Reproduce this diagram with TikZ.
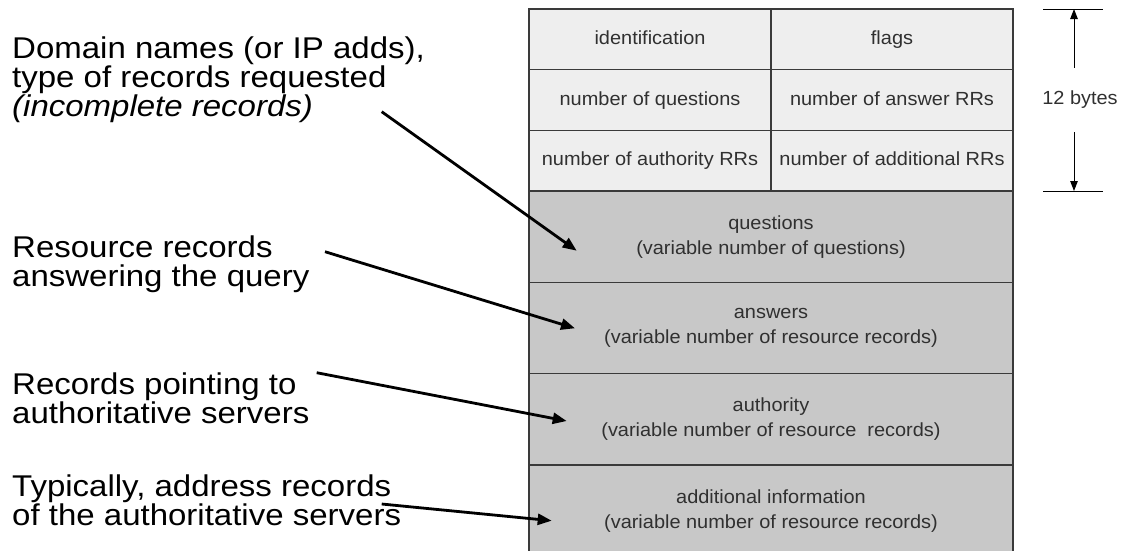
\documentclass[tikz,border=0pt]{standalone}
\usepackage{fontspec}
\setmainfont{Liberation Sans}
\newfontfamily\lblfont[FakeStretch=1.1]{Liberation Sans}
\newfontfamily\cellfont[FakeStretch=1.05]{Liberation Sans}
\usetikzlibrary{arrows.meta}
\definecolor{hdrfill}{HTML}{EEEEEE}
\definecolor{secfill}{HTML}{C8C8C8}
\definecolor{cellline}{HTML}{3A3A3A}
\definecolor{celltext}{HTML}{303030}
\begin{document}
\begin{tikzpicture}[x=1pt,y=-1pt,
  hdr/.style={draw=cellline, fill=hdrfill, line width=1.1pt, minimum width=242pt,
    minimum height=60.67pt, inner sep=0pt, text=celltext,
    text height=14pt, text depth=4pt,
    font=\cellfont\fontsize{19}{24}\selectfont},
  sec/.style={draw=cellline, fill=secfill, line width=1.1pt, minimum width=484pt,
    minimum height=91.33pt, inner sep=0pt, align=center, text=celltext,
    font=\cellfont\fontsize{19}{25}\selectfont},
  lbl/.style={anchor=north west, inner sep=0pt, align=left,
    font=\lblfont\fontsize{30}{29}\selectfont},
  pointer/.style={line width=2.8pt, -{Triangle[length=14pt,width=11pt]}},
  dimline/.style={line width=1pt},
  dimarrow/.style={line width=1pt, -{Triangle[length=10pt,width=7.5pt]}}
]
\useasboundingbox (0,0) rectangle (1122,550);
\begin{scope}
\clip (0,0) rectangle (1122,550);

% header: 12 bytes in three rows of two fields
\node[hdr] (id)    at (650,39.33)  {identification};
\node[hdr] (flags) at (892,39.33)  {flags};
\node[hdr] (nq)    at (650,100)    {number of questions};
\node[hdr] (nans)  at (892,100)    {number of answer RRs};
\node[hdr] (nauth) at (650,160.67) {number of authority RRs};
\node[hdr] (nadd)  at (892,160.67) {number of additional RRs};

% variable-length sections
\node[sec] (quest) at (771,236.67) {questions\\(variable number of questions)};
\node[sec] (answ)  at (771,328)    {answers\\(variable number of resource records)};
\node[sec] (auth)  at (771,419.33) {authority\\(variable number of resource\ \ records)};
\node[sec] (addl)  at (771,510.67) {additional information\\(variable number of resource records)};
\end{scope}

% size of the header
\node[inner xsep=0pt, inner ysep=23pt, font=\cellfont\fontsize{19}{24}\selectfont, text=celltext]
  (bytes) at (1080,100) {12 bytes};
\coordinate (topl) at (1043,9);
\coordinate (topr) at (1103,9);
\coordinate (botl) at (1043,191);
\coordinate (botr) at (1103,191);
\coordinate (topmid) at (1074,9);
\coordinate (botmid) at (1074,191);
\draw[dimline] (topl) -- (topr);
\draw[dimline] (botl) -- (botr);
\draw[dimarrow] (bytes.north -| topmid) -- (topmid);
\draw[dimarrow] (bytes.south -| botmid) -- (botmid);

% explanations on the left
\node[lbl] (l1) at (12,37)  {Domain names (or IP adds),\\type of records requested\\\textit{(incomplete records)}};
\node[lbl] (l2) at (12,236) {Resource records\\answering the query};
\node[lbl] (l3) at (12,373) {Records pointing to\\authoritative servers};
\node[lbl] (l4) at (12,475) {Typically, address records\\of the authoritative servers};

% pointers into the sections
\coordinate (p1) at (381.7,111.7);
\coordinate (q1) at (576.7,250.7);
\coordinate (p2) at (325,251.7);
\coordinate (q2) at (575,328.3);
\coordinate (p3) at (316.7,372.7);
\coordinate (q3) at (566.7,421);
\coordinate (p4) at (381.7,504);
\coordinate (q4) at (551.7,520.7);
\draw[pointer] (p1) -- (q1);
\draw[pointer] (p2) -- (q2);
\draw[pointer] (p3) -- (q3);
\draw[pointer] (p4) -- (q4);
\end{tikzpicture}
\end{document}
